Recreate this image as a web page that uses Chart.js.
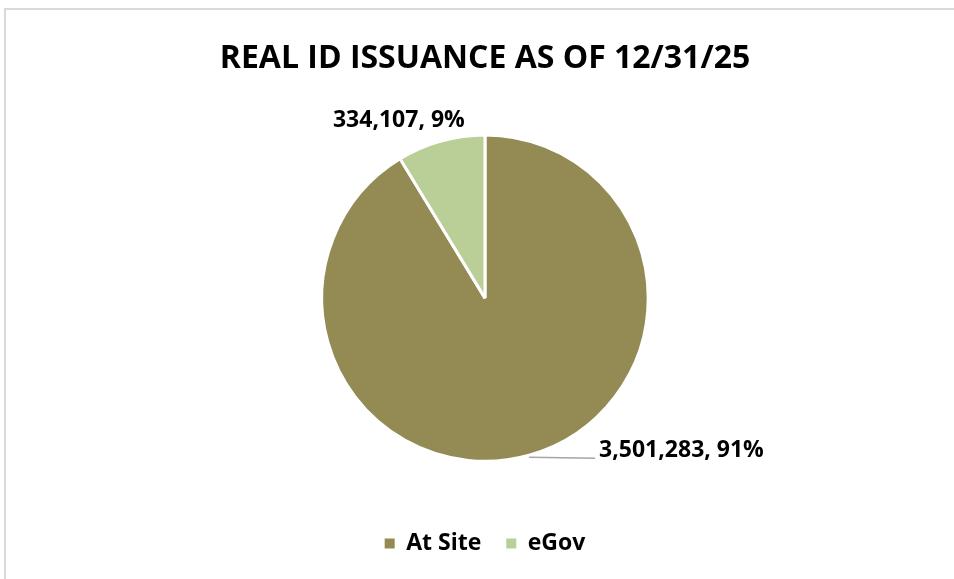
<!DOCTYPE html>
<html>
<head>
<meta charset="utf-8">
<script src="https://cdn.jsdelivr.net/npm/chart.js@4.4.1/dist/chart.umd.min.js"></script>
<style>
  html, body { margin: 0; padding: 0; background: #fff; }
  canvas { display: block; }
</style>
</head>
<body>
<canvas id="pieChart" width="954" height="579"></canvas>
<script>
const categories = ['At Site', 'eGov'];
const issued = [3501283, 334107];
const sliceColors = ['#948A54', '#B9CF97'];

const FONT = '"Open Sans", Lato, sans-serif';

// light frame around the chart (top + left edges visible)
const framePlugin = {
    id: 'frame',
    beforeDraw(chart) {
        const c = chart.ctx;
        c.save();
        c.fillStyle = '#fff';
        c.fillRect(0, 0, chart.width, chart.height);
        c.fillStyle = '#d9d9d9';
        c.fillRect(4, 8, chart.width - 4, 2);
        c.fillRect(4, 8, 2, chart.height - 8);
        c.restore();
    }
};

// "value, pct%" labels outside the slices
const labelPlugin = {
    id: 'sliceLabels',
    afterDraw(chart) {
        const c = chart.ctx;
        const meta = chart.getDatasetMeta(0);
        const total = issued.reduce((a, b) => a + b, 0);
        c.save();
        c.font = 'bold 23px ' + FONT;
        c.fillStyle = '#000';
        c.textBaseline = 'middle';
        meta.data.forEach((arc, i) => {
            const mid = (arc.startAngle + arc.endAngle) / 2;
            const ax = arc.x + Math.cos(mid) * arc.outerRadius;
            const ay = arc.y + Math.sin(mid) * arc.outerRadius;
            const pct = Math.round(issued[i] / total * 100);
            const text = issued[i].toLocaleString('en-US') + ', ' + pct + '%';
            if (i === 0) {
                // leader line then label to the right
                c.strokeStyle = '#a6a6a6';
                c.lineWidth = 1.5;
                c.beginPath();
                c.moveTo(ax, ay + 2);
                c.lineTo(ax + 66, ay + 3);
                c.stroke();
                c.textAlign = 'left';
                c.fillText(text, ax + 70, ay - 5);
            } else {
                c.textAlign = 'center';
                c.fillText(text, ax - 42, ay - 21);
            }
        });
        c.restore();
    }
};

new Chart(document.getElementById('pieChart'), {
    type: 'pie',
    data: {
        labels: categories,
        datasets: [{
            data: issued,
            backgroundColor: sliceColors,
            borderColor: '#ffffff',
            borderWidth: 3
        }]
    },
    options: {
        responsive: false,
        animation: false,
        layout: { padding: { left: 16, right: 0, top: 0, bottom: 14 } },
        plugins: {
            tooltip: { enabled: false },
            title: {
                display: true,
                text: 'REAL ID ISSUANCE AS OF 12/31/25',
                color: '#000',
                font: { family: FONT, size: 32, weight: 'bold' },
                padding: { top: 40, bottom: 55 }
            },
            legend: {
                position: 'bottom',
                title: {
                    display: true,
                    text: '',
                    font: { size: 1 },
                    padding: { top: 43, bottom: 0 }
                },
                labels: {
                    color: '#000',
                    font: { family: FONT, size: 23, weight: 'bold' },
                    boxWidth: 10,
                    boxHeight: 10,
                    padding: 25,
                    generateLabels: () => categories.map((name, i) => ({
                        text: name,
                        fillStyle: sliceColors[i],
                        strokeStyle: sliceColors[i],
                        lineWidth: 0,
                        fontColor: '#000',
                        index: i
                    }))
                }
            }
        }
    },
    plugins: [framePlugin, labelPlugin]
});
</script>
</body>
</html>
